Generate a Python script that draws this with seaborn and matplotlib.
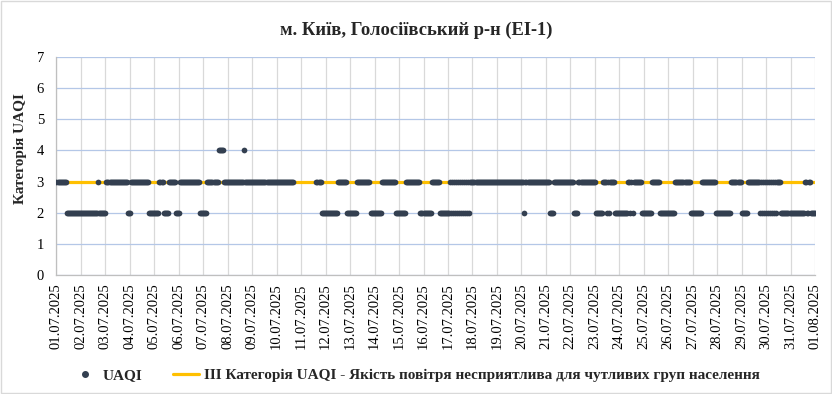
import numpy as np
import pandas as pd
import matplotlib
matplotlib.use("Agg")
import matplotlib.pyplot as plt
import seaborn as sns
from matplotlib.lines import Line2D
from matplotlib.patches import Rectangle

# ---------------- data ----------------
title = "м. Київ, Голосіївський р-н (ЕІ-1)"
y_label = "Категорія UAQI"
series_name = "UAQI"
threshold_name = "III Категорія UAQI - Якість повітря несприятлива для чутливих груп населення"
tick_labels = [
    "01.07.2025", "02.07.2025", "03.07.2025", "04.07.2025", "05.07.2025", "06.07.2025",
    "07.07.2025", "08.07.2025", "09.07.2025", "10.07.2025", "11.07.2025", "12.07.2025",
    "13.07.2025", "14.07.2025", "15.07.2025", "16.07.2025", "17.07.2025", "18.07.2025",
    "19.07.2025", "20.07.2025", "21.07.2025", "22.07.2025", "23.07.2025", "24.07.2025",
    "25.07.2025", "26.07.2025", "27.07.2025", "28.07.2025", "29.07.2025", "30.07.2025",
    "31.07.2025", "01.08.2025",
]

# hourly UAQI category, stored as runs (value, number of consecutive hours); nan = no data
run_values = [
    # 01.07 - 11.07
    3, 2, 3, 2, 3, 2, 3, 2, 3, 2, 3, 2, 3, 2, 3, 4, 3, 4, 3, np.nan,
    # 11.07 - 17.07
    3, 2, 3, 2, 3, 2, 3, 2, 3, 2, 3, 2,
    # 17.07 - 18.07 (rapid changes)
    3, 2, 3, 2, 3, 2, 3, 2, 3, 2, 3, 2, 3, 2, 3, 2, 3, 2, 3, 2,
    # 18.07 - 23.07
    3, 2, 3, 2, 3, 2, 3, 2,
    # 23.07 - 24.07
    3, 2, 3, 2, 3, 2, 3, 2, 3, 2, 3,
    # 24.07 - 29.07
    2, 3, 2, 3, 2, 3, 2, 3, 2, 3,
    # 29.07 - 30.07 (rapid changes)
    2, 3, 2, 3, 2, 3, 2, 3, 2, 3, 2, 3, 2, 3, 2, 3, 2,
    # 30.07 - 01.08
    3, 2, 3, 2, 3, 2,
]
run_lengths = [
    10, 31, 1, 7, 21, 3, 18, 10, 4, 5, 7, 4, 20, 7, 11, 5, 20, 1, 48, 22,
    5, 16, 9, 10, 13, 11, 14, 10, 14, 11, 8, 10,
    1, 1, 1, 1, 1, 1, 1, 1, 1, 1, 1, 1, 1, 1, 1, 1, 1, 1, 1, 1,
    53, 1, 24, 4, 20, 4, 17, 7,
    4, 1, 1, 1, 5, 13, 2, 1, 1, 1, 8,
    10, 8, 15, 15, 11, 14, 15, 10, 6, 12,
    1, 1, 1, 1, 1, 1, 1, 1, 1, 1, 1, 1, 1, 1, 1, 1, 1,
    4, 23, 2, 2, 2, 5,
]
threshold_value = 3

uaqi = np.repeat(np.array(run_values, dtype=float), run_lengths)
hours = np.arange(len(uaqi))
day_pos = hours / 24.0

df = pd.DataFrame({"day": day_pos, "UAQI": uaqi}).dropna()
thr_df = pd.DataFrame({"day": day_pos, "value": np.full(len(day_pos), threshold_value)})

# ---------------- style ----------------
sns.set_theme(style="white")
plt.rcParams["font.family"] = ["Liberation Serif", "DejaVu Serif"]

fig = plt.figure(figsize=(8.32, 3.94), dpi=100)
ax = fig.add_axes([56.5 / 832, 1 - 275 / 394, (815 - 56.5) / 832, (275 - 57) / 394])

sns.lineplot(data=thr_df, x="day", y="value", color="#FFC000", linewidth=2.3,
             ax=ax, zorder=2, legend=False)
sns.scatterplot(data=df, x="day", y="UAQI", color="#333F50", s=17, linewidth=0,
                ax=ax, zorder=3, legend=False)

ax.set_xlim(0, 31)
ax.set_ylim(0, 7)
ax.set_xticks(range(len(tick_labels)))
ax.set_xticklabels(tick_labels, rotation=90, fontsize=10.5, color="#000000")
ax.set_yticks(range(8))
ax.set_yticklabels([str(i) for i in range(8)], fontsize=10.5, color="#000000")
ax.tick_params(axis="x", length=0, pad=6)
ax.tick_params(axis="y", length=0, pad=9)
ax.set_xlabel("")
ax.set_ylabel("")

ax.set_axisbelow(True)
ax.xaxis.grid(True, color="#D9D9D9", linewidth=0.9)
ax.yaxis.grid(True, color="#B4C7E7", linewidth=0.9)
for s in ["top", "right"]:
    ax.spines[s].set_visible(False)
for s in ["left", "bottom"]:
    ax.spines[s].set_color("#BFBFBF")
    ax.spines[s].set_linewidth(0.9)

fig.text(20 / 832, 1 - 149 / 394, y_label, rotation=90, ha="center", va="center",
         fontsize=11, fontweight="bold")
fig.text(416 / 832, 1 - 30 / 394, title, ha="center", va="center",
         fontsize=13.3, fontweight="bold")

handles = [
    Line2D([], [], marker="o", linestyle="none", markersize=4,
           markerfacecolor="#333F50", markeredgecolor="#333F50"),
    Line2D([], [], color="#FFC000", linewidth=2.3),
]
fig.legend(handles, [series_name, threshold_name], loc="center",
           bbox_to_anchor=(416 / 832, 1 - 375 / 394), ncol=2, frameon=False,
           prop={"family": "Liberation Serif", "weight": "bold", "size": 11},
           handlelength=1.7, handletextpad=0.3, columnspacing=2.0)

fig.patches.append(Rectangle((0.001, 0.002), 0.998, 0.996, transform=fig.transFigure,
                             fill=False, edgecolor="#D9D9D9", linewidth=1))

fig.savefig("out.png", dpi=100)
